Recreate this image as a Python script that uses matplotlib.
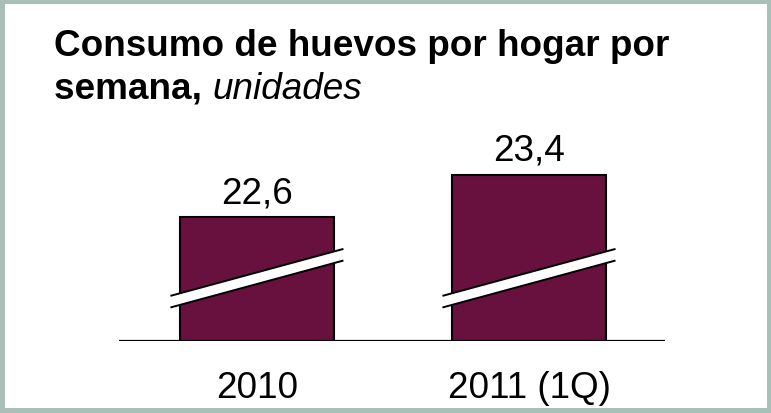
import matplotlib
matplotlib.use("Agg")
import matplotlib.pyplot as plt
from matplotlib.patches import Rectangle, Polygon

# ---- data ----
categories = ["2010", "2011 (1Q)"]
values = [22.6, 23.4]
title_bold_1 = "Consumo de huevos por hogar por"
title_bold_2 = "semana,"
title_italic = "unidades"

# ---- style ----
W, H, DPI = 771, 413, 100
border_color = "#A9BFB8"
bar_color = "#69113E"
base = 20.25          # broken axis: bars start here
break_y = 21.44       # centre of the break band (data units)
font = "Liberation Sans"
fs = 26.6

fig = plt.figure(figsize=(W / DPI, H / DPI), dpi=DPI, facecolor=border_color)
fig.patches.append(Rectangle((5 / W, 5 / H), (W - 9) / W, (H - 9) / H,
                             transform=fig.transFigure, facecolor="white",
                             edgecolor="none", zorder=-5))

ax = fig.add_axes([119 / W, 72 / H, 546 / W, 241 / H])
ax.set_zorder(2)
ax.set_facecolor("none")
ax.set_xlim(-0.507, 1.5)
ax.set_ylim(base, base + 241 / 52.77)
ax.axis("off")

x = list(range(len(categories)))
heights = [v - base for v in values]
ax.bar(x, heights, bottom=base, width=0.566, color=bar_color,
       edgecolor="black", linewidth=1.5, zorder=2)
ax.axhline(base, color="black", linewidth=1.6, zorder=3)

# break marks
half_w = 0.318
rise = 0.445
half_t = 0.11
for xi in x:
    x0, x1 = xi - half_w, xi + half_w
    y0, y1 = break_y - rise, break_y + rise
    poly = Polygon([(x0, y0 - half_t), (x1, y1 - half_t),
                    (x1, y1 + half_t), (x0, y0 + half_t)],
                   closed=True, facecolor="white", edgecolor="none",
                   zorder=4, clip_on=False)
    ax.add_patch(poly)
    ax.plot([x0, x1], [y0 + half_t, y1 + half_t], color="black", lw=1.4,
            zorder=5, clip_on=False, solid_capstyle="butt")
    ax.plot([x0, x1], [y0 - half_t, y1 - half_t], color="black", lw=1.4,
            zorder=5, clip_on=False, solid_capstyle="butt")

# value labels
for xi, v in zip(x, values):
    ax.annotate(f"{v:.1f}".replace(".", ","), (xi, v), xytext=(0, 10),
                textcoords="offset points", ha="center", va="baseline",
                fontsize=fs, family=font, color="black")

# category labels
for xi, c in zip(x, categories):
    ax.annotate(c, (xi, base), xytext=(0, -41), textcoords="offset points",
                ha="center", va="baseline", fontsize=fs, family=font,
                color="black", annotation_clip=False)

# title
tx = 54 / W
t1 = fig.text(tx, 1 - 56 / H, title_bold_1, fontsize=fs, family=font,
              fontweight="bold", va="baseline", ha="left")
t2 = fig.text(tx, 1 - 99 / H, title_bold_2 + " ", fontsize=fs, family=font,
              fontweight="bold", va="baseline", ha="left")
fig.canvas.draw()
bb = t2.get_window_extent()
fig.text(bb.x1 / W, 1 - 99 / H, title_italic, fontsize=fs, family=font,
         style="italic", va="baseline", ha="left")

fig.savefig("out.png", dpi=DPI, facecolor=border_color)
